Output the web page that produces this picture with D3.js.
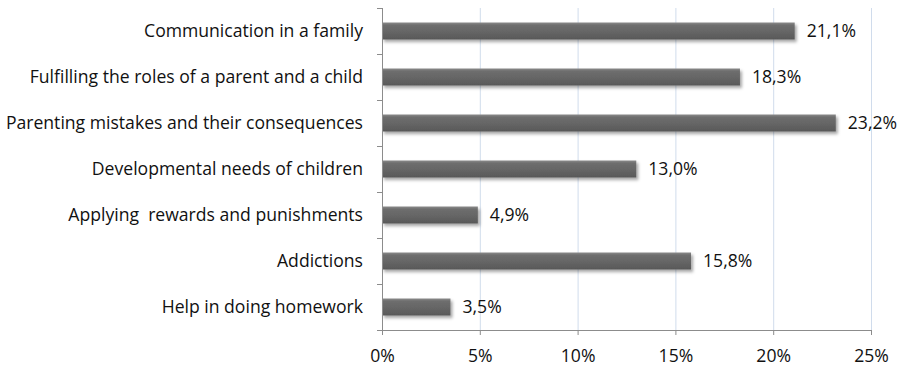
<!DOCTYPE html>
<html>
<head>
<meta charset="utf-8">
<script src="https://cdn.jsdelivr.net/npm/d3@7"></script>
<style>
  html, body { margin: 0; padding: 0; background: #fff; }
  svg { display: block; }
  text { font-family: "Open Sans", Lato, sans-serif; fill: #111; white-space: pre; }
</style>
</head>
<body>
<svg id="chart" width="904" height="366"></svg>
<script>
// Topics, top to bottom, with their shares in percent
const categories = [
  "Communication in a family",
  "Fulfilling the roles of a parent and a child",
  "Parenting mistakes and their consequences",
  "Developmental needs of children",
  "Applying  rewards and punishments",
  "Addictions",
  "Help in doing homework"
];
const values = [21.1, 18.3, 23.2, 13.0, 4.9, 15.8, 3.5];
const xTicks = [0, 5, 10, 15, 20, 25];

const svg = d3.select("#chart");
const margin = { top: 8, right: 33, bottom: 36, left: 382 };
const W = 904, H = 366;
const innerW = W - margin.left - margin.right;
const innerH = H - margin.top - margin.bottom;
const fontSize = 17.6;
const fontFamily = "'Open Sans', Lato, sans-serif";

const x = d3.scaleLinear().domain([0, 25]).range([0, innerW]);
const y = d3.scaleBand().domain(categories).range([0, innerH]).paddingInner(0.63).paddingOuter(0.315);
const yEdge = d3.scaleBand().domain(categories).range([0, innerH]);

const defs = svg.append("defs");
const grad = defs.append("linearGradient").attr("id", "barFill").attr("x1", 0).attr("y1", 0).attr("x2", 0).attr("y2", 1);
grad.append("stop").attr("offset", 0).attr("stop-color", "#8c8c8c");
grad.append("stop").attr("offset", 0.15).attr("stop-color", "#6e6e6e");
grad.append("stop").attr("offset", 0.6).attr("stop-color", "#646464");
grad.append("stop").attr("offset", 1).attr("stop-color", "#585858");
const shadow = defs.append("filter").attr("id", "barShadow")
  .attr("x", "-5%").attr("y", "-30%").attr("width", "115%").attr("height", "180%");
shadow.append("feDropShadow").attr("dx", 2).attr("dy", 2.5).attr("stdDeviation", 1.6)
  .attr("flood-color", "#000").attr("flood-opacity", 0.35);

const g = svg.append("g").attr("transform", `translate(${margin.left},${margin.top})`);

// vertical gridlines
g.append("g").selectAll("line").data(xTicks.slice(1)).join("line")
  .attr("x1", d => x(d) + 0.5).attr("x2", d => x(d) + 0.5)
  .attr("y1", 0).attr("y2", innerH)
  .attr("stroke", "#d0dcec").attr("stroke-width", 1);

// bars
g.append("g").selectAll("rect").data(categories).join("rect")
  .attr("x", 0)
  .attr("y", d => y(d))
  .attr("width", (d, i) => x(values[i]))
  .attr("height", y.bandwidth())
  .attr("fill", "url(#barFill)")
  .attr("filter", "url(#barShadow)");

// value labels
g.append("g").selectAll("text").data(categories).join("text")
  .attr("x", (d, i) => x(values[i]) + 12)
  .attr("y", d => y(d) + y.bandwidth() / 2)
  .attr("dy", "0.36em")
  .attr("font-size", fontSize)
  .text((d, i) => values[i].toFixed(1).replace(".", ",") + "%");

// left axis with category boundary ticks
const axisColor = "#8c8c8c";
g.append("line").attr("x1", 0.5).attr("x2", 0.5).attr("y1", 0).attr("y2", innerH)
  .attr("stroke", axisColor);
const edges = categories.map(c => yEdge(c)).concat([innerH]);
g.append("g").selectAll("line").data(edges).join("line")
  .attr("x1", -5).attr("x2", 0.5)
  .attr("y1", d => Math.round(d) + 0.5).attr("y2", d => Math.round(d) + 0.5)
  .attr("stroke", axisColor);

// category labels
g.append("g").selectAll("text").data(categories).join("text")
  .attr("x", -19)
  .attr("y", d => yEdge(d) + yEdge.bandwidth() / 2)
  .attr("dy", "0.36em")
  .attr("text-anchor", "end")
  .attr("font-size", fontSize)
  .text(d => d);

// bottom axis
const xAxis = g.append("g").attr("transform", `translate(0,${innerH})`)
  .call(d3.axisBottom(x).tickValues(xTicks).tickSize(5).tickPadding(15).tickFormat(d => d + "%"));
xAxis.select(".domain").attr("stroke", axisColor).attr("d", `M0.5,0.5H${innerW + 0.5}`);
xAxis.selectAll(".tick line").attr("stroke", axisColor);
xAxis.selectAll(".tick text").attr("font-size", fontSize).attr("fill", "#111")
  .style("font-family", fontFamily);
</script>
</body>
</html>
